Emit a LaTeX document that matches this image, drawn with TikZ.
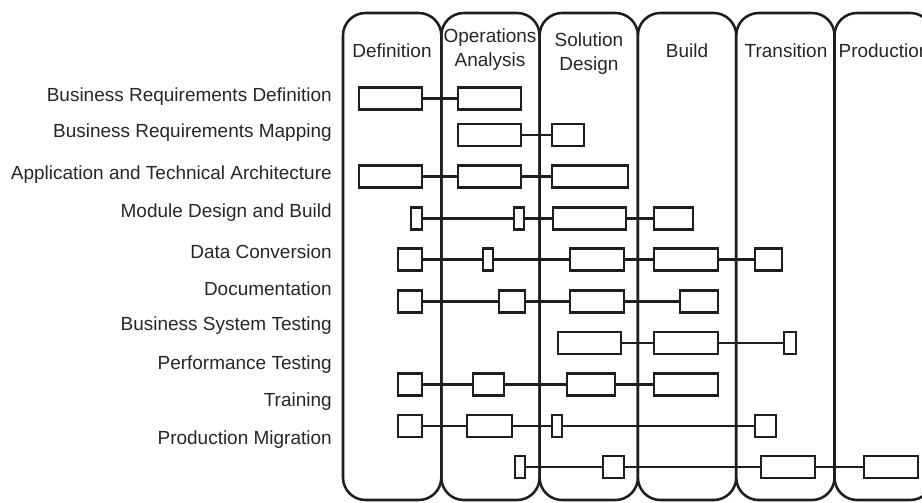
\documentclass[tikz,border=0pt]{standalone}
\usepackage{fontspec}
\setmainfont{Liberation Sans}
\usepackage{tikz}
\usetikzlibrary{positioning}
\definecolor{trait}{HTML}{1E1E1E}
\definecolor{texte}{HTML}{262626}
\tikzset{
  colonne/.style={draw=trait,line width=1.8pt,rounded corners=16pt},
  tache/.style={draw=trait,line width=1.8pt,fill=white,inner sep=0pt,minimum height=0.55cm},
  lien/.style={draw=trait,line width=1.6pt},
  entete/.style={font=\fontsize{13.5}{17}\selectfont,text=texte,align=center},
  etiquette/.style={font=\fontsize{13.5}{16}\selectfont,text=texte,anchor=east,inner sep=0pt},
}
\newcommand{\tache}[4]{\node[tache,minimum width={(#3-#2-2)*0.025cm}] (#1) at ({(#2+#3)/2},#4) {};}

\begin{document}
\begin{tikzpicture}[x=0.025cm,y=-0.025cm]
  \useasboundingbox (0,0) rectangle (922,502);
  \clip (0,0) rectangle (922,502);
  \foreach \k in {0,...,5}
    \draw[colonne] ({343+98.3*\k},13) rectangle ({343+98.3*(\k+1)},500);
  \node[entete] (h1) at (392,51) {Definition};
  \node[entete] (h2) at (490,50) {Operations\\Analysis};
  \node[entete] (h3) at (589,54) {Solution\\Design};
  \node[entete] (h4) at (687,51) {Build};
  \node[entete] (h5) at (786,51) {Transition};
  \node[entete] (h6) at (884,51) {Production};
  \node[etiquette] (l1) at (332,97) {Business Requirements Definition};
  \node[etiquette] (l2) at (332,133) {Business Requirements Mapping};
  \node[etiquette] (l3) at (332,175) {Application and Technical Architecture};
  \node[etiquette] (l4) at (332,213) {Module Design and Build};
  \node[etiquette] (l5) at (332,252) {Data Conversion};
  \node[etiquette] (l6) at (332,289) {Documentation};
  \node[etiquette] (l7) at (332,326) {Business System Testing};
  \node[etiquette] (l8) at (332,365) {Performance Testing};
  \node[etiquette] (l9) at (332,402) {Training};
  \node[etiquette] (l10) at (332,440) {Production Migration};
  \tache{r1a}{358}{423}{98.5} \tache{r1b}{457}{522}{98.5}
  \draw[lien] (r1a) -- (r1b);
  \tache{r2a}{457}{522}{135} \tache{r2b}{551}{585}{135}
  \draw[lien] (r2a) -- (r2b);
  \tache{r3a}{358}{423}{176.5} \tache{r3b}{457}{522}{176.5} \tache{r3c}{551}{629}{176.5}
  \draw[lien] (r3a) -- (r3b) (r3b) -- (r3c);
  \tache{r4a}{410}{423}{218.5} \tache{r4b}{513}{525}{218.5} \tache{r4c}{552}{627}{218.5} \tache{r4d}{653}{694}{218.5}
  \draw[lien] (r4a) -- (r4b) (r4b) -- (r4c) (r4c) -- (r4d);
  \tache{r5a}{397}{423}{259.5} \tache{r5b}{482}{494}{259.5} \tache{r5c}{569}{625}{259.5} \tache{r5d}{653}{719}{259.5} \tache{r5e}{754}{783}{259.5}
  \draw[lien] (r5a) -- (r5b) (r5b) -- (r5c) (r5c) -- (r5d) (r5d) -- (r5e);
  \tache{r6a}{397}{423}{301.5} \tache{r6b}{498}{526}{301.5} \tache{r6c}{569}{625}{301.5} \tache{r6d}{679}{719}{301.5}
  \draw[lien] (r6a) -- (r6b) (r6b) -- (r6c) (r6c) -- (r6d);
  \tache{r7a}{557}{622}{343} \tache{r7b}{653}{719}{343} \tache{r7c}{783}{797}{343}
  \draw[lien] (r7a) -- (r7b) (r7b) -- (r7c);
  \tache{r8a}{397}{423}{384.5} \tache{r8b}{472}{505}{384.5} \tache{r8c}{566}{616}{384.5} \tache{r8d}{653}{719}{384.5}
  \draw[lien] (r8a) -- (r8b) (r8b) -- (r8c) (r8c) -- (r8d);
  \tache{r9a}{397}{423}{426} \tache{r9b}{466}{513}{426} \tache{r9c}{551}{563}{426} \tache{r9d}{754}{777}{426}
  \draw[lien] (r9a) -- (r9b) (r9b) -- (r9c) (r9c) -- (r9d);
  \tache{r10a}{514}{526}{467} \tache{r10b}{602}{625}{467} \tache{r10c}{760}{816}{467} \tache{r10d}{863}{919}{467}
  \draw[lien] (r10a) -- (r10b) (r10b) -- (r10c) (r10c) -- (r10d);
\end{tikzpicture}
\end{document}
